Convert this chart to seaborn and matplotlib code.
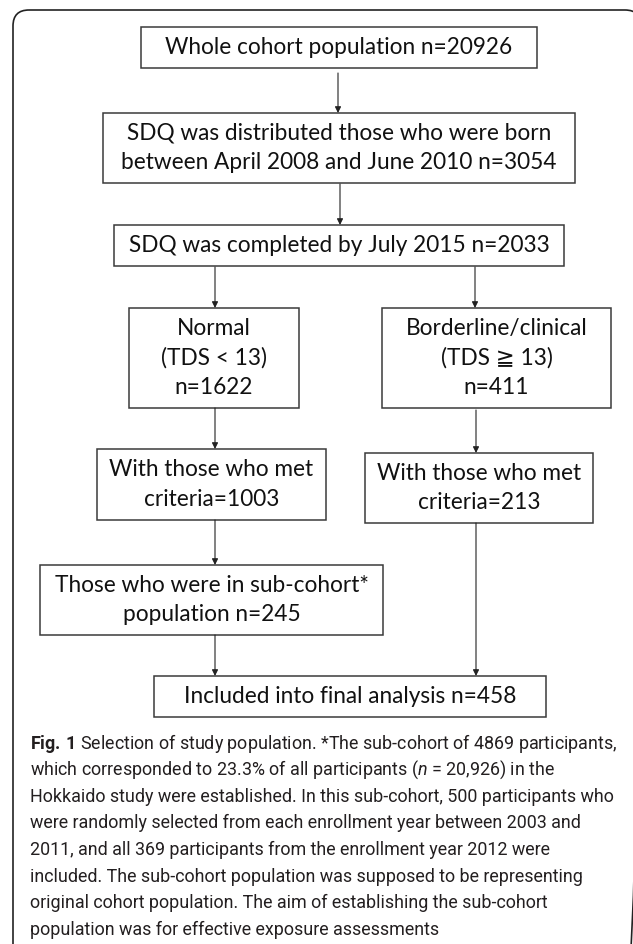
"""
Flow chart: selection of study population (Hokkaido study, SDQ sub-sample).
"""
import matplotlib
matplotlib.use('Agg')
import matplotlib.pyplot as plt
from matplotlib.patches import Rectangle, FancyBboxPatch
import seaborn as sns

sns.set_theme(style='white')
plt.rcParams['font.family'] = ['Lato', 'DejaVu Sans']
plt.rcParams['mathtext.fontset'] = 'custom'
plt.rcParams['mathtext.rm'] = 'Roboto'
plt.rcParams['mathtext.it'] = 'Roboto:italic'
plt.rcParams['mathtext.bf'] = 'Roboto:bold'

# ---- data -------------------------------------------------------------
MAIN_N = [20926, 3054, 2033]
NORMAL_N = [1622, 1003, 245]
BORDER_N = [411, 213]
FINAL_N = 458

BOX_LINES = {
    'whole':   [f'Whole cohort population n={MAIN_N[0]}'],
    'distrib': ['SDQ was distributed those who were born',
                f'between April 2008 and June 2010 n={MAIN_N[1]}'],
    'complete': [f'SDQ was completed by July 2015 n={MAIN_N[2]}'],
    'normal':  ['Normal', '(TDS < 13)', f'n={NORMAL_N[0]}'],
    'border':  ['Borderline/clinical', '(TDS \u2267 13)', f'n={BORDER_N[0]}'],
    'met_n':   ['With those who met', f'criteria={NORMAL_N[1]}'],
    'met_b':   ['With those who met', f'criteria={BORDER_N[1]}'],
    'sub':     ['Those who were in sub-cohort*', f'population n={NORMAL_N[2]}'],
    'final':   [f'Included into final analysis n={FINAL_N}'],
}

CAPTION_LINES = [
    r'$\mathbf{Fig.}\,\mathbf{1}$ Selection of study population. *The sub-cohort of 4869 participants,',
    r'which corresponded to 23.3% of all participants ($\mathit{n}$ = 20,926) in the',
    'Hokkaido study were established. In this sub-cohort, 500 participants who',
    'were randomly selected from each enrollment year between 2003 and',
    '2011, and all 369 participants from the enrollment year 2012 were',
    'included. The sub-cohort population was supposed to be representing',
    'original cohort population. The aim of establishing the sub-cohort',
    'population was for effective exposure assessments',
]

# ---- layout (pixel coordinates, y downwards) ---------------------------
BOXES = {
    'whole':    (141, 27, 537, 68),
    'distrib':  (103, 113, 575, 183),
    'complete': (114, 225, 564, 266),
    'normal':   (129, 308, 299, 408),
    'border':   (382, 308, 611, 408),
    'met_n':    (97, 449, 326, 520),
    'met_b':    (365, 453, 593, 523),
    'sub':      (40, 565, 383, 635),
    'final':    (154, 676, 546, 717),
}
ARROWS = [(338, 73, 113), (340, 184, 225), (215, 267, 308), (475, 267, 308),
          (215, 408, 449), (476, 410, 453), (215, 520, 565), (476, 523, 676),
          (215, 635, 676)]
LINE_STEP = 29.5
CAP_TOP, CAP_STEP, CAP_X = 743.3, 26.67, 30

W, H = 633, 944
fig = plt.figure(figsize=(W / 100, H / 100), dpi=100)
ax = fig.add_axes([0, 0, 1, 1])
ax.set_xlim(0, W)
ax.set_ylim(H, 0)
ax.axis('off')
renderer = fig.canvas.get_renderer()


def fit_size(txt, target_px, **kw):
    t = ax.text(0, 0, txt, fontsize=10, **kw)
    w = t.get_window_extent(renderer).width
    t.remove()
    return 10 * target_px / w


# outer rounded frame (cut by the right and bottom image edges)
frame = FancyBboxPatch((13, 10), 628, 980, boxstyle='round,pad=0,rounding_size=16',
                       fill=False, edgecolor='#222222', linewidth=1.2)
ax.add_patch(frame)

box_fs = fit_size(BOX_LINES['whole'][0], 348)
for key, (x0, y0, x1, y1) in BOXES.items():
    ax.add_patch(Rectangle((x0, y0), x1 - x0, y1 - y0, fill=False,
                           edgecolor='#3a3a3a', linewidth=1.1))
    lines = BOX_LINES[key]
    cx, cy = (x0 + x1) / 2, (y0 + y1) / 2
    for i, line in enumerate(lines):
        y = cy + (i - (len(lines) - 1) / 2) * LINE_STEP
        ax.text(cx, y, line, ha='center', va='center', fontsize=box_fs, color='#111111')

for x, y0, y1 in ARROWS:
    ax.annotate('', xy=(x, y1), xytext=(x, y0),
                arrowprops=dict(arrowstyle='-|>', mutation_scale=9, lw=0.8,
                                color='#222222', shrinkA=0, shrinkB=0))

cap_fs = fit_size(CAPTION_LINES[0], 586, family=['Roboto', 'DejaVu Sans'])
for i, line in enumerate(CAPTION_LINES):
    ax.text(CAP_X, CAP_TOP + i * CAP_STEP, line, ha='left', va='center',
            fontsize=cap_fs, color='#231f20', family=['Roboto', 'DejaVu Sans'])

fig.savefig('out.png', dpi=100, facecolor='white')
